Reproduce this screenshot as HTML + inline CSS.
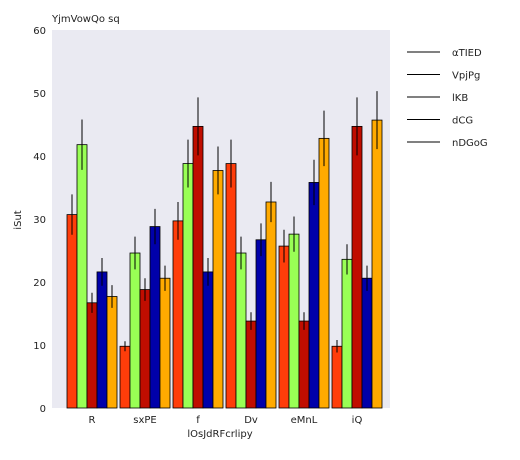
<!DOCTYPE html>
<html><head><meta charset="utf-8"><style>
body{margin:0;background:#fff;}
text{font-family:"DejaVu Sans","Liberation Sans",sans-serif;font-size:10px;fill:#222;}
</style></head><body>
<svg width="520" height="455">
<rect x="52" y="30" width="338" height="378" fill="#eaeaf2"/>
<text x="52" y="22">YjmVowQo sq</text>
<text x="220" y="437" text-anchor="middle">lOsJdRFcrlipy</text>
<text transform="translate(21,220) rotate(-90)" text-anchor="middle">iSut</text>
<g id="yt"></g><g id="bars"></g><g id="xt"></g><g id="leg"></g>
</svg>
<script>
const categories=["R","sxPE","f","Dv","eMnL","iQ"];
const seriesNames=["αTIED","VpjPg","lKB","dCG","nDGoG"];
const colors=["#ff3d0a","#99ff55","#c00d00","#0000aa","#ffaa00"];
const s0=[30.7,9.8,29.7,38.8,25.7,9.8];
const s1=[41.8,24.6,38.8,24.6,27.6,23.6];
const s2=[16.7,18.8,44.7,13.8,13.8,44.7];
const s3=[21.6,28.8,21.6,26.7,35.8,20.6];
const s4=[17.7,20.6,37.7,32.7,42.8,45.7];
const e0=[3.2,0.8,3,3.8,2.6,1];
const e1=[4,2.6,3.8,2.6,2.8,2.4];
const e2=[1.6,1.8,4.6,1.4,1.4,4.6];
const e3=[2.2,2.8,2.2,2.6,3.6,2];
const e4=[1.8,2,3.8,3.2,4.4,4.6];
const yTicks=[0,10,20,30,40,50,60];
const series=[s0,s1,s2,s3,s4], errs=[e0,e1,e2,e3,e4];
const NS="http://www.w3.org/2000/svg";
const y=v=>408-v*6.3;
const x=(i,j)=>67+i*53+j*10;
function mk(t,a,p){const e=document.createElementNS(NS,t);for(const k in a)e.setAttribute(k,a[k]);document.getElementById(p).appendChild(e);return e;}
yTicks.forEach(t=>{const e=mk("text",{x:46,y:y(t)+4,"text-anchor":"end"},"yt");e.textContent=t;

});
categories.forEach((c,i)=>{const e=mk("text",{x:x(i,2.5),y:423,"text-anchor":"middle"},"xt");e.textContent=c;

});
series.forEach((s,j)=>s.forEach((v,i)=>{
const r=mk("rect",{x:x(i,j),y:y(v),width:10,height:408-y(v),fill:colors[j],stroke:"#000","stroke-width":0.8},"bars");


const l=mk("line",{x1:x(i,j)+5,x2:x(i,j)+5,y1:y(v-errs[j][i]),y2:y(v+errs[j][i]),stroke:"#000","stroke-width":1},"bars");


}));
seriesNames.forEach((n,j)=>{const yy=52+j*22.5;
const l=mk("line",{x1:407,x2:440,y1:yy,y2:yy,stroke:"#000","stroke-width":1},"leg");


const t=mk("text",{x:452,y:yy+4},"leg");t.textContent=n;

});
</script>
</body></html>
